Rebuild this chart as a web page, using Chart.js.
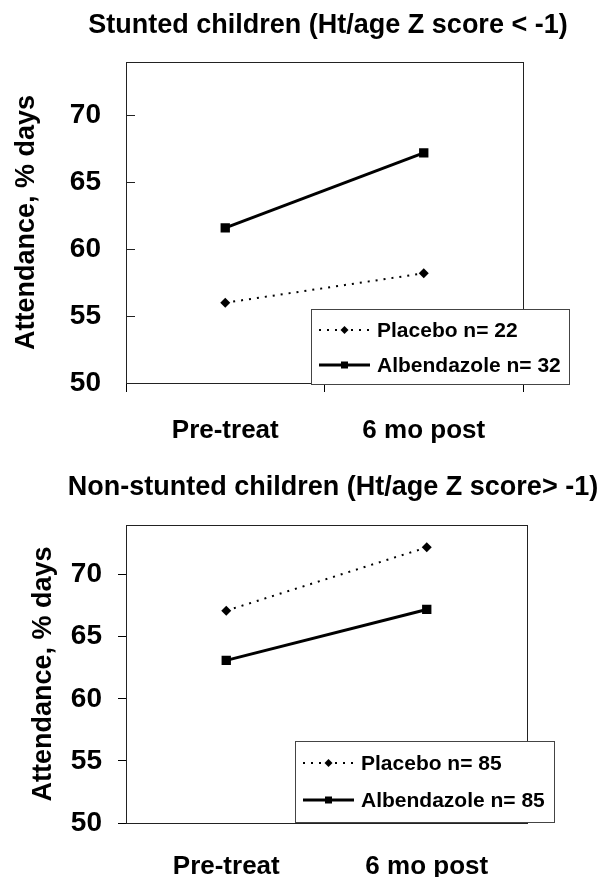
<!DOCTYPE html>
<html><head><meta charset="utf-8">
<script src="https://cdn.jsdelivr.net/npm/chart.js@4.4.1/dist/chart.umd.min.js"></script>
<style>
html,body{margin:0;padding:0;background:#fff;width:599px;height:877px;overflow:hidden}
#c1{position:absolute;left:0;top:0}
#c2{position:absolute;left:0;top:445px}
</style></head><body>
<canvas id="c1" width="599" height="445"></canvas>
<canvas id="c2" width="599" height="432"></canvas>
<script>
const categories = ['Pre-treat', '6 mo post'];
const yTicks = [50, 55, 60, 65, 70];
const stuntedPlacebo = [56.0, 58.2];
const stuntedAlbendazole = [61.6, 67.2];
const nonStuntedPlacebo = [67.1, 72.2];
const nonStuntedAlbendazole = [63.1, 67.2];
const stuntedLabels = ['Placebo n= 22', 'Albendazole n= 32'];
const nonStuntedLabels = ['Placebo n= 85', 'Albendazole n= 85'];
const chartTitles = ['Stunted children (Ht/age Z score < -1)', 'Non-stunted children (Ht/age Z score> -1)'];
const yAxisTitle = 'Attendance, % days';

const SANS = '"Liberation Sans", Arial, sans-serif';

const frame = {
  id: 'frame',
  beforeDatasetsDraw(chart, args, o) {
    const ctx = chart.ctx, a = chart.chartArea;
    ctx.save();
    ctx.strokeStyle = '#222';
    ctx.lineWidth = 1;
    ctx.strokeRect(Math.round(a.left) + 0.5, Math.round(a.top) + 0.5, Math.round(a.right - a.left), Math.round(a.bottom - a.top));
    if (o.innerTicks) {
      const y = chart.scales.y;
      y.ticks.forEach(t => {
        const py = Math.round(y.getPixelForValue(t.value)) + 0.5;
        ctx.beginPath();
        ctx.moveTo(a.left, py);
        ctx.lineTo(a.left + o.innerTicks, py);
        ctx.stroke();
      });
    }
    ctx.restore();
  },
  afterDraw(chart, args, o) {
    const ctx = chart.ctx;
    ctx.save();
    ctx.font = 'bold 27px ' + SANS;
    ctx.fillStyle = '#000';
    ctx.textAlign = 'center';
    ctx.textBaseline = 'alphabetic';
    ctx.fillText(o.title, o.titleX, o.titleY);
    const L = o.legend;
    ctx.fillStyle = '#fff';
    ctx.fillRect(L.x, L.y, L.w, L.h);
    ctx.strokeStyle = '#444';
    ctx.lineWidth = 1;
    ctx.strokeRect(L.x + 0.5, L.y + 0.5, L.w, L.h);
    chart.data.datasets.forEach((ds, i) => {
      const cy = L.y + L.rows[i];
      const x0 = L.x + 8, x1 = x0 + 51;
      ctx.beginPath();
      ctx.setLineDash(ds.borderDash || []);
      ctx.lineWidth = ds.borderWidth;
      ctx.strokeStyle = ds.borderColor;
      ctx.moveTo(x0, cy); ctx.lineTo(x1, cy); ctx.stroke();
      ctx.setLineDash([]);
      const mx = (x0 + x1) / 2;
      ctx.fillStyle = ds.pointBackgroundColor;
      ctx.beginPath();
      if (ds.pointStyle === 'rect') {
        ctx.rect(mx - 3.5, cy - 3.5, 7, 7);
      } else {
        ctx.moveTo(mx, cy - 4); ctx.lineTo(mx + 4, cy); ctx.lineTo(mx, cy + 4); ctx.lineTo(mx - 4, cy); ctx.closePath();
      }
      ctx.fill();
      ctx.fillStyle = '#000';
      ctx.font = 'bold 21px ' + SANS;
      ctx.textAlign = 'left';
      ctx.textBaseline = 'middle';
      ctx.fillText(ds.label, L.x + 66, cy + 1);
    });
    ctx.restore();
  }
};

function makeChart(id, placebo, albendazole, labels, cfg) {
  return new Chart(document.getElementById(id), {
    type: 'line',
    data: {
      labels: categories,
      datasets: [
        { label: labels[0], data: placebo, borderColor: '#000', borderWidth: 2, borderDash: [2, 6],
          pointStyle: 'rectRot', pointRadius: 5, pointBackgroundColor: '#000', pointBorderColor: '#000', pointBorderWidth: 0, fill: false, tension: 0 },
        { label: labels[1], data: albendazole, borderColor: '#000', borderWidth: 3,
          pointStyle: 'rect', pointRadius: 6.6, pointBackgroundColor: '#000', pointBorderColor: '#000', pointBorderWidth: 0, fill: false, tension: 0 }
      ]
    },
    options: {
      responsive: false,
      animation: false,
      devicePixelRatio: 1,
      layout: { padding: { top: cfg.padTop, right: cfg.padRight, left: 0, bottom: 0 } },
      plugins: {
        legend: { display: false },
        tooltip: { enabled: false },
        frame: cfg.frame
      },
      scales: {
        x: {
          type: 'category',
          offset: true,
          grid: { display: true, offset: true, drawOnChartArea: false, drawTicks: cfg.xTicks > 0, tickLength: cfg.xTicks, color: '#000', lineWidth: 1 },
          border: { display: true, color: '#000', width: 1 },
          ticks: { color: '#000', font: { family: SANS, size: 26, weight: 'bold' }, padding: cfg.xPad, maxRotation: 0, autoSkip: false },
          afterFit(s) { s.height = cfg.xHeight; }
        },
        y: {
          min: 50, max: 74,
          afterBuildTicks(s) { s.ticks = yTicks.map(v => ({ value: v })); },
          grid: { display: cfg.yOuter > 0, drawOnChartArea: false, drawTicks: cfg.yOuter > 0, tickLength: cfg.yOuter, color: '#000', lineWidth: 1 },
          border: { display: true, color: '#000', width: 1 },
          ticks: { color: '#000', font: { family: SANS, size: 28, weight: 'bold' }, padding: cfg.yPad },
          title: { display: true, text: yAxisTitle, color: '#000', font: { family: SANS, size: 27, weight: 'bold' }, padding: { top: cfg.yTitlePad, bottom: 0 } },
          afterFit(s) { s.width = 126; }
        }
      }
    },
    plugins: [frame]
  });
}

makeChart('c1', stuntedPlacebo, stuntedAlbendazole, stuntedLabels, {
  padTop: 62, padRight: 76, xHeight: 62, xTicks: 9, xPad: 23, yOuter: 0, yPad: 25, yTitlePad: 10,
  frame: { innerTicks: 9, title: chartTitles[0], titleX: 328, titleY: 33,
           legend: { x: 311, y: 309, w: 258, h: 75, rows: [21, 56] } }
});
makeChart('c2', nonStuntedPlacebo, nonStuntedAlbendazole, nonStuntedLabels, {
  padTop: 80, padRight: 72, xHeight: 54, xTicks: 0, xPad: 28, yOuter: 8, yPad: 16, yTitlePad: 27,
  frame: { innerTicks: 0, title: chartTitles[1], titleX: 333, titleY: 50,
           legend: { x: 295, y: 296, w: 259, h: 81, rows: [22, 59] } }
});
</script>
</body></html>
